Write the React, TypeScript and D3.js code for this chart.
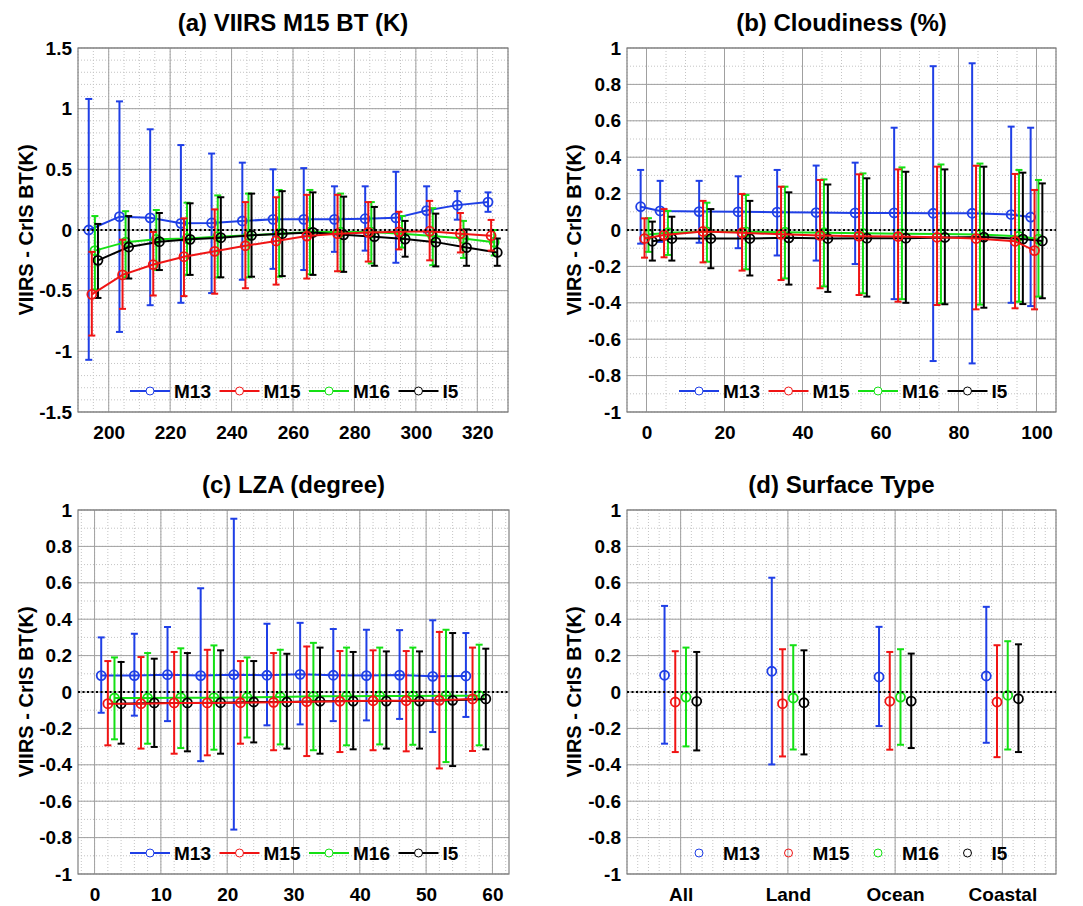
import React, { useEffect, useRef } from "react";
import * as d3 from "d3";

const channels = ["M13", "M15", "M16", "I5"];

// (a) VIIRS M15 BT bins (K)
const btBins = [195, 205, 215, 225, 235, 245, 255, 265, 275, 285, 295, 305, 315, 325];
const btM13 = [0.0, 0.11, 0.1, 0.055, 0.058, 0.074, 0.088, 0.088, 0.088, 0.093, 0.1, 0.16, 0.205, 0.23];
const btM13Hi = [1.08, 1.06, 0.83, 0.7, 0.63, 0.555, 0.5, 0.51, 0.36, 0.36, 0.48, 0.36, 0.32, 0.31];
const btM13Lo = [-1.07, -0.84, -0.62, -0.6, -0.52, -0.41, -0.32, -0.33, -0.18, -0.17, -0.27, -0.02, 0.085, 0.15];
const btM15 = [-0.53, -0.37, -0.285, -0.22, -0.176, -0.13, -0.09, -0.05, -0.03, -0.02, -0.015, -0.01, -0.03, -0.047];
const btM15Hi = [-0.18, -0.08, -0.016, 0.096, 0.17, 0.23, 0.27, 0.29, 0.29, 0.23, 0.15, 0.24, 0.14, 0.083];
const btM15Lo = [-0.87, -0.65, -0.54, -0.545, -0.525, -0.48, -0.45, -0.4, -0.34, -0.26, -0.16, -0.25, -0.185, -0.17];
const btM16 = [-0.17, -0.1, -0.077, -0.07, -0.055, -0.044, -0.03, -0.017, -0.017, -0.017, -0.03, -0.05, -0.07, -0.1];
const btM16Hi = [0.115, 0.155, 0.165, 0.225, 0.285, 0.3, 0.33, 0.33, 0.3, 0.23, 0.115, 0.18, 0.075, 0.0];
const btM16Lo = [-0.49, -0.39, -0.33, -0.37, -0.39, -0.39, -0.385, -0.365, -0.34, -0.275, -0.145, -0.29, -0.23, -0.21];
const btI5 = [-0.25, -0.14, -0.096, -0.077, -0.063, -0.044, -0.03, -0.02, -0.04, -0.055, -0.075, -0.1, -0.145, -0.185];
const btI5Hi = [0.05, 0.115, 0.14, 0.22, 0.27, 0.3, 0.32, 0.31, 0.275, 0.19, 0.075, 0.135, 0.005, -0.07];
const btI5Lo = [-0.56, -0.4, -0.33, -0.37, -0.39, -0.385, -0.38, -0.37, -0.345, -0.295, -0.22, -0.3, -0.295, -0.295];

// (b) cloudiness bins (%)
const cloudBins = [0, 5, 15, 25, 35, 45, 55, 65, 75, 85, 95, 100];
const cldM13 = [0.128, 0.105, 0.101, 0.1, 0.098, 0.096, 0.094, 0.094, 0.092, 0.092, 0.085, 0.071];
const cldM13Hi = [0.33, 0.27, 0.27, 0.295, 0.33, 0.354, 0.37, 0.562, 0.9, 0.916, 0.568, 0.562];
const cldM13Lo = [-0.075, -0.065, -0.07, -0.1, -0.14, -0.168, -0.187, -0.38, -0.72, -0.733, -0.4, -0.418];
const cldM15 = [-0.047, -0.028, -0.008, -0.015, -0.024, -0.03, -0.034, -0.036, -0.04, -0.047, -0.062, -0.113];
const cldM15Hi = [0.064, 0.115, 0.16, 0.198, 0.238, 0.275, 0.306, 0.333, 0.348, 0.353, 0.308, 0.22];
const cldM15Lo = [-0.152, -0.15, -0.178, -0.223, -0.275, -0.32, -0.357, -0.394, -0.412, -0.436, -0.43, -0.436];
const cldM16 = [-0.025, -0.015, -0.01, -0.01, -0.012, -0.015, -0.018, -0.02, -0.022, -0.025, -0.035, -0.05];
const cldM16Hi = [0.065, 0.105, 0.15, 0.192, 0.238, 0.278, 0.311, 0.344, 0.36, 0.365, 0.33, 0.275];
const cldM16Lo = [-0.12, -0.137, -0.174, -0.216, -0.266, -0.31, -0.348, -0.38, -0.403, -0.41, -0.394, -0.366];
const cldI5 = [-0.062, -0.047, -0.047, -0.047, -0.043, -0.047, -0.045, -0.045, -0.041, -0.039, -0.05, -0.06];
const cldI5Hi = [0.046, 0.073, 0.115, 0.16, 0.207, 0.25, 0.284, 0.32, 0.333, 0.348, 0.315, 0.256];
const cldI5Lo = [-0.168, -0.168, -0.21, -0.25, -0.3, -0.34, -0.366, -0.4, -0.408, -0.427, -0.407, -0.375];

// (c) LZA bins (degree)
const lzaBins = [2.5, 7.5, 12.5, 17.5, 22.5, 27.5, 32.5, 37.5, 42.5, 47.5, 52.5, 57.5];
const lzaM13 = [0.09, 0.09, 0.095, 0.09, 0.095, 0.092, 0.097, 0.092, 0.09, 0.093, 0.086, 0.088];
const lzaM13Hi = [0.3, 0.32, 0.357, 0.57, 0.952, 0.375, 0.38, 0.346, 0.342, 0.34, 0.394, 0.324];
const lzaM13Lo = [-0.114, -0.13, -0.16, -0.38, -0.756, -0.183, -0.178, -0.16, -0.156, -0.148, -0.22, -0.137];
const lzaM15 = [-0.064, -0.064, -0.06, -0.06, -0.059, -0.057, -0.053, -0.051, -0.048, -0.048, -0.046, -0.038];
const lzaM15Hi = [0.17, 0.192, 0.22, 0.232, 0.17, 0.214, 0.25, 0.225, 0.229, 0.225, 0.33, 0.244];
const lzaM15Lo = [-0.293, -0.311, -0.339, -0.348, -0.284, -0.32, -0.352, -0.33, -0.32, -0.326, -0.42, -0.324];
const lzaM16 = [-0.033, -0.033, -0.031, -0.031, -0.03, -0.027, -0.024, -0.024, -0.022, -0.022, -0.02, -0.02];
const lzaM16Hi = [0.19, 0.214, 0.24, 0.256, 0.19, 0.232, 0.27, 0.244, 0.244, 0.244, 0.342, 0.26];
const lzaM16Lo = [-0.26, -0.284, -0.308, -0.317, -0.25, -0.288, -0.32, -0.293, -0.288, -0.29, -0.385, -0.293];
const lzaI5 = [-0.064, -0.06, -0.06, -0.059, -0.055, -0.055, -0.051, -0.05, -0.05, -0.05, -0.046, -0.038];
const lzaI5Hi = [0.165, 0.183, 0.214, 0.229, 0.17, 0.21, 0.244, 0.22, 0.223, 0.223, 0.324, 0.238];
const lzaI5Lo = [-0.284, -0.302, -0.326, -0.339, -0.277, -0.311, -0.339, -0.315, -0.311, -0.311, -0.407, -0.315];

// (d) surface type
const surfaceTypes = ["All", "Land", "Ocean", "Coastal"];
const sfcM13 = [0.092, 0.114, 0.083, 0.088];
const sfcM13Hi = [0.473, 0.628, 0.358, 0.468];
const sfcM13Lo = [-0.284, -0.398, -0.187, -0.279];
const sfcM15 = [-0.055, -0.064, -0.051, -0.055];
const sfcM15Hi = [0.224, 0.235, 0.22, 0.257];
const sfcM15Lo = [-0.33, -0.354, -0.317, -0.358];
const sfcM16 = [-0.028, -0.033, -0.028, -0.018];
const sfcM16Hi = [0.244, 0.257, 0.235, 0.279];
const sfcM16Lo = [-0.299, -0.316, -0.29, -0.316];
const sfcI5 = [-0.051, -0.059, -0.05, -0.037];
const sfcI5Hi = [0.22, 0.229, 0.211, 0.262];
const sfcI5Lo = [-0.321, -0.343, -0.308, -0.33];

// tick labels
const btTicks = [200, 220, 240, 260, 280, 300, 320];
const cloudTicks = [0, 20, 40, 60, 80, 100];
const lzaTicks = [0, 10, 20, 30, 40, 50, 60];
const yTicksA = [-1.5, -1, -0.5, 0, 0.5, 1, 1.5];
const yTicksB = [-1, -0.8, -0.6, -0.4, -0.2, 0, 0.2, 0.4, 0.6, 0.8, 1];

const colors = ["#1f3fe6", "#f01414", "#14e014", "#000000"];
const drawOrder = [0, 2, 3, 1];
const binOffsets = [-1.5, -0.5, 0.5, 1.5];
const catOffsets = [-0.15, -0.05, 0.05, 0.15];
const FONT = "'Liberation Sans', Arial, Helvetica, sans-serif";

const makeSeries = (bins, offsets, ys) =>
  ys.map(([y, hi, lo], i) =>
    y.map((v, k) => ({ x: bins[k] + offsets[i], y: v, hi: hi[k], lo: lo[k] }))
  );

const panels = [
  {
    title: "(a) VIIRS M15 BT (K)",
    left: 78, right: 508, top: 48, bottom: 412,
    xDomain: [190, 330], yDomain: [-1.5, 1.5],
    xTicks: btTicks, xLabels: null, yTicks: yTicksA, xMinor: 5, yMinor: 0.1,
    ylabelX: 26, lines: true,
    series: makeSeries(btBins, binOffsets, [
      [btM13, btM13Hi, btM13Lo], [btM15, btM15Hi, btM15Lo],
      [btM16, btM16Hi, btM16Lo], [btI5, btI5Hi, btI5Lo]
    ])
  },
  {
    title: "(b) Cloudiness (%)",
    left: 627, right: 1056, top: 48, bottom: 412,
    xDomain: [-5, 105], yDomain: [-1, 1],
    xTicks: cloudTicks, xLabels: null, yTicks: yTicksB, xMinor: 5, yMinor: 0.1,
    ylabelX: 574, lines: true,
    series: makeSeries(cloudBins, binOffsets, [
      [cldM13, cldM13Hi, cldM13Lo], [cldM15, cldM15Hi, cldM15Lo],
      [cldM16, cldM16Hi, cldM16Lo], [cldI5, cldI5Hi, cldI5Lo]
    ])
  },
  {
    title: "(c) LZA (degree)",
    left: 78, right: 509, top: 510, bottom: 874,
    xDomain: [-2.5, 62.5], yDomain: [-1, 1],
    xTicks: lzaTicks, xLabels: null, yTicks: yTicksB, xMinor: 2, yMinor: 0.1,
    ylabelX: 26, lines: true,
    series: makeSeries(lzaBins, binOffsets, [
      [lzaM13, lzaM13Hi, lzaM13Lo], [lzaM15, lzaM15Hi, lzaM15Lo],
      [lzaM16, lzaM16Hi, lzaM16Lo], [lzaI5, lzaI5Hi, lzaI5Lo]
    ])
  },
  {
    title: "(d) Surface Type",
    left: 627, right: 1056, top: 510, bottom: 874,
    xDomain: [0.5, 4.5], yDomain: [-1, 1],
    xTicks: [1, 2, 3, 4], xLabels: surfaceTypes, yTicks: yTicksB, xMinor: 0.1, yMinor: 0.1,
    ylabelX: 574, lines: false,
    series: makeSeries([1, 2, 3, 4], catOffsets, [
      [sfcM13, sfcM13Hi, sfcM13Lo], [sfcM15, sfcM15Hi, sfcM15Lo],
      [sfcM16, sfcM16Hi, sfcM16Lo], [sfcI5, sfcI5Hi, sfcI5Lo]
    ])
  }
];

function drawPanel(svg, p) {
  const x = d3.scaleLinear().domain(p.xDomain).range([p.left, p.right]);
  const y = d3.scaleLinear().domain(p.yDomain).range([p.bottom, p.top]);
  const g = svg.append("g");

  g.append("rect")
    .attr("x", p.left).attr("y", p.top)
    .attr("width", p.right - p.left).attr("height", p.bottom - p.top)
    .attr("fill", "#fff");

  // minor grid
  const xMinor = d3.range(Math.ceil(p.xDomain[0] / p.xMinor - 1e-6), Math.floor(p.xDomain[1] / p.xMinor + 1e-6) + 1)
    .map(k => k * p.xMinor);
  const yMinor = d3.range(Math.ceil(p.yDomain[0] / p.yMinor - 1e-6), Math.floor(p.yDomain[1] / p.yMinor + 1e-6) + 1)
    .map(k => k * p.yMinor);

  g.selectAll(".xminor").data(xMinor).join("line")
    .attr("x1", d => x(d)).attr("x2", d => x(d))
    .attr("y1", p.top).attr("y2", p.bottom)
    .attr("stroke", "#c4c4c4").attr("stroke-width", 1).attr("stroke-dasharray", "1,2");
  g.selectAll(".yminor").data(yMinor).join("line")
    .attr("y1", d => y(d)).attr("y2", d => y(d))
    .attr("x1", p.left).attr("x2", p.right)
    .attr("stroke", "#c4c4c4").attr("stroke-width", 1).attr("stroke-dasharray", "1,2");

  // major grid
  g.selectAll(".xmajor").data(p.xTicks).join("line")
    .attr("x1", d => x(d)).attr("x2", d => x(d))
    .attr("y1", p.top).attr("y2", p.bottom)
    .attr("stroke", "#a0a0a0").attr("stroke-width", 1);
  g.selectAll(".ymajor").data(p.yTicks).join("line")
    .attr("y1", d => y(d)).attr("y2", d => y(d))
    .attr("x1", p.left).attr("x2", p.right)
    .attr("stroke", "#a0a0a0").attr("stroke-width", 1);

  g.append("rect")
    .attr("x", p.left).attr("y", p.top)
    .attr("width", p.right - p.left).attr("height", p.bottom - p.top)
    .attr("fill", "none").attr("stroke", "#808080").attr("stroke-width", 1.2);

  // series
  drawOrder.forEach(i => {
    const pts = p.series[i];
    const col = colors[i];
    const s = g.append("g");
    s.selectAll(".bar").data(pts).join("line")
      .attr("x1", d => x(d.x)).attr("x2", d => x(d.x))
      .attr("y1", d => y(d.hi)).attr("y2", d => y(d.lo))
      .attr("stroke", col).attr("stroke-width", 2);
    ["hi", "lo"].forEach(k => {
      s.selectAll(".cap" + k).data(pts).join("line")
        .attr("x1", d => x(d.x) - 3.5).attr("x2", d => x(d.x) + 3.5)
        .attr("y1", d => y(d[k])).attr("y2", d => y(d[k]))
        .attr("stroke", col).attr("stroke-width", 2);
    });
    if (p.lines) {
      s.append("path").datum(pts)
        .attr("d", d3.line().x(d => x(d.x)).y(d => y(d.y)))
        .attr("fill", "none").attr("stroke", col).attr("stroke-width", 2);
    }
    s.selectAll("circle").data(pts).join("circle")
      .attr("cx", d => x(d.x)).attr("cy", d => y(d.y)).attr("r", 4.5)
      .attr("fill", "none").attr("stroke", col).attr("stroke-width", 1.8);
  });

  // zero reference
  g.append("line")
    .attr("x1", p.left).attr("x2", p.right)
    .attr("y1", y(0)).attr("y2", y(0))
    .attr("stroke", "#000").attr("stroke-width", 2).attr("stroke-dasharray", "2,2.5");

  // axes
  const xAxis = d3.axisBottom(x).tickValues(p.xTicks).tickSize(0).tickPadding(14)
    .tickFormat((d, i) => (p.xLabels ? p.xLabels[i] : String(d)));
  g.append("g").attr("transform", `translate(0,${p.bottom})`).call(xAxis)
    .call(a => a.select(".domain").remove())
    .attr("font-size", 19).attr("font-weight", "bold").attr("font-family", FONT);

  const yAxis = d3.axisLeft(y).tickValues(p.yTicks).tickSize(0).tickPadding(6)
    .tickFormat(d => String(d));
  g.append("g").attr("transform", `translate(${p.left},0)`).call(yAxis)
    .call(a => a.select(".domain").remove())
    .attr("font-size", 19).attr("font-weight", "bold").attr("font-family", FONT);

  g.selectAll(".tick text").attr("fill", "#000");

  // title and y label
  g.append("text")
    .attr("x", (p.left + p.right) / 2).attr("y", p.top - 17)
    .attr("text-anchor", "middle")
    .style("font-family", FONT).style("font-size", "24px").style("font-weight", "bold")
    .text(p.title);

  g.append("text")
    .attr("transform", `translate(${p.ylabelX},${(p.top + p.bottom) / 2}) rotate(-90)`)
    .attr("text-anchor", "middle").attr("dy", "0.36em")
    .style("font-family", FONT).style("font-size", "20px").style("font-weight", "bold")
    .text("VIIRS - CrIS BT(K)");

  // legend
  const ly = p.bottom - 21;
  const leg = g.append("g");
  channels.forEach((name, i) => {
    const x0 = p.left + 52 + 89.5 * i;
    if (p.lines) {
      leg.append("line")
        .attr("x1", x0).attr("x2", x0 + 40).attr("y1", ly).attr("y2", ly)
        .attr("stroke", colors[i]).attr("stroke-width", 2);
    }
    leg.append("circle")
      .attr("cx", x0 + 20).attr("cy", ly).attr("r", 4)
      .attr("fill", p.lines ? "#fff" : "none").attr("stroke", colors[i]).attr("stroke-width", 1);
    leg.append("text")
      .attr("x", x0 + 44).attr("y", ly).attr("dy", "0.36em")
      .style("font-family", FONT).style("font-size", "19px").style("font-weight", "bold")
      .text(name);
  });
}

export default function App() {
  const ref = useRef(null);

  useEffect(() => {
    const svg = d3.select(ref.current);
    svg.selectAll("*").remove();
    svg.append("rect").attr("width", 1083).attr("height", 906).attr("fill", "#fff");
    panels.forEach(p => drawPanel(svg, p));
  }, []);

  return (
    <svg
      ref={ref}
      width={1083}
      height={906}
      style={{ position: "absolute", left: 0, top: 0, display: "block" }}
    />
  );
}
